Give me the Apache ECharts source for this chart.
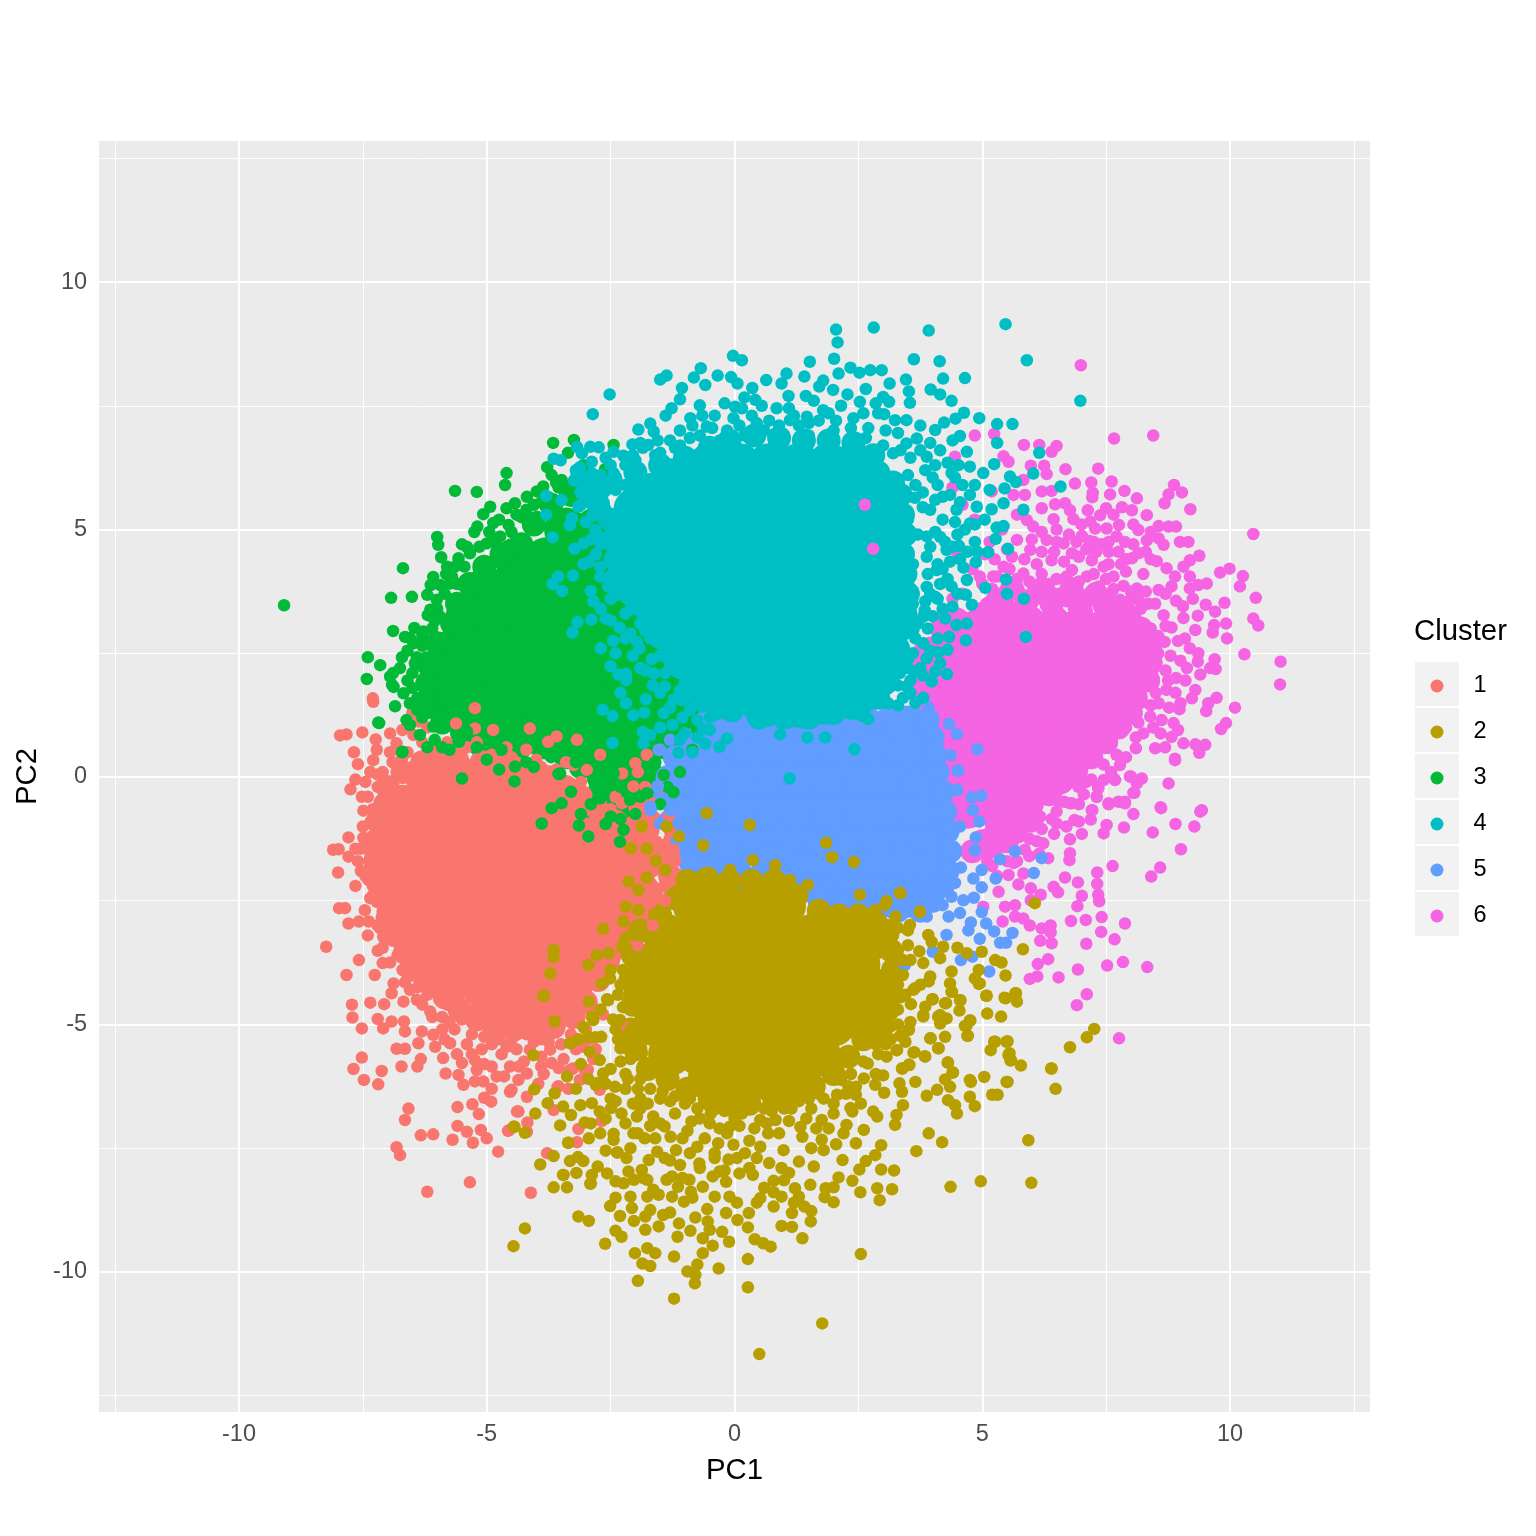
<!DOCTYPE html>
<html><head><meta charset="utf-8">
<style>html,body{margin:0;padding:0;background:#fff}#c{width:1536px;height:1536px}</style>
<script src="https://cdn.jsdelivr.net/npm/echarts@6/dist/echarts.min.js"></script></head>
<body><div id="c"></div>
<script>
const categories=['1','2','3','4','5','6'];
const colors=['#F8766D','#B79F00','#00BA38','#00BFC4','#619CFF','#F564E3'];
const majorBreaks=[-10,-5,0,5,10];
const minorBreaks=[-12.5,-7.5,-2.5,2.5,7.5,12.5];

// dense centres of each cluster, read as solid areas
const core1=[[-6.2,0],[-5.6,0],[-5,0],[-4.4,-.1],[-3.8,-.2],[-6.7,-.6],[-6.1,-.6],[-5.5,-.6],[-4.9,-.6],[-4.3,-.6],[-3.7,-.6],[-6.8,-1.2],[-6.2,-1.2],[-5.6,-1.2],[-5,-1.2],[-4.4,-1.2],[-3.8,-1.2],[-3.2,-1.2],[-2.6,-1.2],[-2.1,-1.4],[-6.8,-1.8],[-6.2,-1.8],[-5.6,-1.8],[-5,-1.8],[-4.4,-1.8],[-3.8,-1.8],[-3.2,-1.8],[-2.6,-1.8],[-2,-1.8],[-6.6,-2.4],[-6,-2.4],[-5.4,-2.4],[-4.8,-2.4],[-4.2,-2.4],[-3.6,-2.4],[-3,-2.4],[-2.4,-2.4],[-1.9,-2.4],[-6.4,-3],[-5.8,-3],[-5.2,-3],[-4.6,-3],[-4,-3],[-3.4,-3],[-2.8,-3],[-2.2,-3],[-6.1,-3.6],[-5.5,-3.6],[-4.9,-3.6],[-4.3,-3.6],[-3.7,-3.6],[-3.1,-3.6],[-2.7,-3.5],[-5.7,-4.1],[-5.1,-4.2],[-4.5,-4.2],[-3.9,-4.2],[-3.3,-4.2],[-4.9,-4.7],[-4.3,-4.7],[-3.7,-4.7]];
const core2=[[-.8,-2.6],[-.2,-2.6],[.4,-2.6],[1,-2.6],[-1.4,-3.2],[-.8,-3.2],[-.2,-3.2],[.4,-3.2],[1,-3.2],[1.6,-3.2],[2.2,-3.2],[2.7,-3.3],[-1.7,-3.8],[-1.1,-3.8],[-.5,-3.8],[.1,-3.8],[.7,-3.8],[1.3,-3.8],[1.9,-3.8],[2.5,-3.8],[-1.8,-4.4],[-1.2,-4.4],[-.6,-4.4],[0,-4.4],[.6,-4.4],[1.2,-4.4],[1.8,-4.4],[2.4,-4.4],[2.8,-4.3],[-1.6,-5],[-1,-5],[-.4,-5],[.2,-5],[.8,-5],[1.4,-5],[2,-5],[2.5,-4.85],[-1.3,-5.6],[-.7,-5.6],[-.1,-5.6],[.5,-5.6],[1.1,-5.6],[1.7,-5.6],[-.5,-6.1],[.1,-6.1],[.7,-6.1],[1.3,-6]];
const core3=[[-3.4,5],[-2.8,5],[-2.2,5],[-4.4,4.4],[-3.8,4.4],[-3.2,4.4],[-2.6,4.4],[-2,4.4],[-5,3.8],[-4.4,3.8],[-3.8,3.8],[-3.2,3.8],[-2.6,3.8],[-2,3.8],[-5.4,3.2],[-4.8,3.2],[-4.2,3.2],[-3.6,3.2],[-3,3.2],[-2.4,3.2],[-1.8,3.2],[-5.6,2.6],[-5,2.6],[-4.4,2.6],[-3.8,2.6],[-3.2,2.6],[-2.6,2.6],[-2,2.6],[-1.4,2.6],[-5.8,2],[-5.2,2],[-4.6,2],[-4,2],[-3.4,2],[-2.8,2],[-2.2,2],[-1.6,2],[-1,2],[-5.7,1.4],[-5.1,1.4],[-4.5,1.4],[-3.9,1.4],[-3.3,1.4],[-2.7,1.4],[-2.1,1.4],[-1.5,1.4],[-.9,1.4],[-5,.8],[-4.4,.8],[-3.8,.8],[-3.2,.8],[-2.6,.8],[-2,.8],[-1.4,.8],[-2.6,.2],[-2,.2]];
const core4=[[-.5,6.3],[.1,6.3],[.7,6.3],[1.3,6.3],[1.9,6.3],[2.4,6.3],[-1.2,6],[-.6,6],[0,6],[.6,6],[1.2,6],[1.8,6],[2.4,6],[2.9,5.6],[-2,5.4],[-1.4,5.4],[-.8,5.4],[-.2,5.4],[.4,5.4],[1,5.4],[1.6,5.4],[2.2,5.4],[2.8,5.4],[3,5.1],[-2.2,4.8],[-1.6,4.8],[-1,4.8],[-.4,4.8],[.2,4.8],[.8,4.8],[1.4,4.8],[2,4.8],[2.6,4.8],[3,4.6],[-1.8,4.2],[-1.2,4.2],[-.6,4.2],[0,4.2],[.6,4.2],[1.2,4.2],[1.8,4.2],[2.4,4.2],[2.9,4.2],[-1.6,3.6],[-1,3.6],[-.4,3.6],[.2,3.6],[.8,3.6],[1.4,3.6],[2,3.6],[2.6,3.6],[3,3.6],[-1.4,3],[-.8,3],[-.2,3],[.4,3],[1,3],[1.6,3],[2.2,3],[2.8,3],[3,3],[-1,2.4],[-.4,2.4],[.2,2.4],[.8,2.4],[1.4,2.4],[2,2.4],[2.6,2.4],[2.8,2.4],[-.6,1.8],[0,1.8],[.6,1.8],[1.2,1.8],[1.8,1.8],[2.4,1.8],[2.7,1.9],[.6,1.45],[1.2,1.45],[1.8,1.5],[2.4,1.6]];
const core5=[[-.4,1],[.2,1],[.8,1],[1.4,1],[2,1],[2.6,1],[3.2,1],[3.5,1],[-.8,.4],[-.2,.4],[.4,.4],[1,.4],[1.6,.4],[2.2,.4],[2.8,.4],[3.4,.4],[3.7,.4],[-1,-.2],[-.4,-.2],[.2,-.2],[.8,-.2],[1.4,-.2],[2,-.2],[2.6,-.2],[3.2,-.2],[3.8,-.2],[-1,-.8],[-.4,-.8],[.2,-.8],[.8,-.8],[1.4,-.8],[2,-.8],[2.6,-.8],[3.2,-.8],[3.8,-.8],[-.6,-1.4],[0,-1.4],[.6,-1.4],[1.2,-1.4],[1.8,-1.4],[2.4,-1.4],[3,-1.4],[3.6,-1.4],[4,-1.4],[.8,-1.8],[1.4,-1.9],[2,-2],[2.6,-2],[3.2,-2],[3.8,-2],[2.4,-2.4],[3,-2.4],[3.5,-2.4]];
const core6=[[4.4,3],[5,3],[5.6,2.9],[6.2,2.9],[6.8,2.9],[7.4,2.9],[7.9,2.9],[4,2.4],[4.6,2.4],[5.2,2.4],[5.8,2.4],[6.4,2.4],[7,2.4],[7.6,2.4],[8,2.4],[3.9,1.8],[4.5,1.8],[5.1,1.8],[5.7,1.8],[6.3,1.8],[6.9,1.8],[7.5,1.8],[7.9,1.9],[4,1.2],[4.6,1.2],[5.2,1.2],[5.8,1.2],[6.4,1.2],[7,1.2],[7.5,1.3],[4.2,.6],[4.8,.6],[5.4,.6],[6,.6],[6.6,.6],[7,.7],[4.6,0],[5.2,0],[5.8,0],[6.3,-.05],[4.7,-.6],[5.3,-.6],[5.7,-.5]];

// bands of the solid areas' edges
const band1=[[-6.3,.3],[-6.7,.1],[-7,-.2],[-7.05,-.55],[-7.2,-.9],[-7.25,-1.3],[-7.25,-1.7],[-7.2,-2.1],[-7,-2.5],[-7,-2.85],[-6.85,-3.2],[-6.65,-3.55],[-6.45,-3.9],[-6.15,-4.15],[-5.85,-4.45],[-5.55,-4.7],[-5.2,-4.9],[-4.85,-5.05],[-4.45,-5.1],[-4.05,-5.1],[-3.65,-5.05],[-3.25,-4.85],[-3,-4.55],[-2.75,-4.1],[-2.55,-3.7],[-2.3,-3.4],[-2.05,-3.05],[-1.85,-2.7],[-1.8,-2.2],[-1.7,-1.8],[-1.65,-1.4],[-2.2,-1.1],[-2.7,-.9],[-3.3,-.7],[-3.1,-.4],[-4,-.3],[-3.5,-.25],[-4.2,.1],[-4.6,.25],[-5.1,.3],[-5.6,.35],[-6,.4],[-3.4,-.2],[-2.8,-.6],[-2.4,-.9],[-2,-1],[-1.7,-.9],[-1.9,-.6],[-1.2,-1.3],[-1.3,-2],[-1.1,-2.1],[-1.3,-1.6]];
const band2=[[3.05,-3.1],[3.15,-3.5],[3.2,-3.9],[3.15,-4.3],[3.1,-4.7],[2.95,-5.1],[2.6,-5.3],[2.3,-5.65],[2,-6],[1.6,-6.25],[1.2,-6.4],[.8,-6.5],[.3,-6.6],[-.1,-6.6],[-.5,-6.5],[-.95,-6.3],[-1.35,-6.1],[-1.75,-5.9],[-2,-5.5],[-2.1,-5.1],[-2.05,-4.6],[-2.1,-4.1],[-2.05,-3.6],[-1.9,-3.1],[-1.5,-2.8],[-1.2,-2.45],[-.95,-2.1],[-.55,-2.05],[-.1,-2.1],[.35,-2.1],[.8,-2.1],[1.25,-2.4],[1.7,-2.7],[2.1,-2.8],[2.5,-2.8],[2.85,-2.95]];
const band3=[[-6.2,1.5],[-6.2,1.9],[-6.2,2.3],[-6,2.7],[-5.7,3.1],[-5.6,3.5],[-5.35,3.9],[-5.05,4.25],[-4.7,4.5],[-4.3,4.7],[-4.05,5.1],[-3.7,5.5],[-3.3,5.7],[-5.9,1.1],[-5.5,.9],[-5.1,.7],[-3.3,.6],[-2.9,.3],[-3.4,.4],[-2.3,0],[-2.1,-.3],[-1.7,.1],[-1.2,.4],[-1,.9],[-1.8,-.1],[-2.6,-.2],[-3.1,.2],[-2.7,-.2],[-2.4,-.5],[-2.2,-.7],[-1.9,-.4],[-1.6,-.3],[-1.3,0],[-2.9,-.6]];
const band4=[[-3,5.8],[-2.75,5.5],[-2.5,5.2],[-2.35,4.8],[-2.4,4.4],[-2.4,4],[-2.1,3.7],[-1.8,3.4],[-1.5,3.05],[-1.3,2.7],[-.95,2.3],[-.7,1.9],[-.4,1.5],[-.05,1.35],[.5,1.2],[1,1.2],[1.5,1.2],[2,1.3],[2.5,1.4],[2.9,1.6],[3.05,1.9],[3.1,2.2],[3.3,2.6],[3.4,3],[3.45,3.3],[3.5,3.7],[3.45,4.1],[3.4,4.5],[3.45,4.9],[3.4,5.3],[3.35,5.7],[3.2,5.95],[2.9,6.15],[2.8,6.5],[2.4,6.75],[1.9,6.8],[1.4,6.8],[.9,6.85],[.4,6.9],[-.1,6.8],[-.5,6.65],[-1,6.45],[-1.5,6.3],[-2,6.15],[-2.5,6],[-2.9,6],[-2.7,5.85],[-2,5.8],[-1.7,5.9]];
const band5=[[-.9,.8],[-1.2,.4],[-1.35,0],[-1.4,-.4],[-1.3,-.9],[-1.05,-1.3],[-.75,-1.6],[-.35,-1.85],[.1,-1.9],[3.9,1.15],[4,.8],[4.05,.45],[4.1,.1],[4.2,-.3],[4.25,-.7],[4.3,-1.1],[4.35,-1.5],[4.3,-1.9],[4.2,-2.2],[4,-2.5],[3.75,-2.7],[3.3,-2.7],[1.9,-2.3],[1.5,-2.2],[1,-2.1],[.5,-2],[-.9,-1.7],[-.6,-1.9],[-.3,-2.1],[.2,-2.15],[.6,-2.2],[2.1,-2.5],[1.7,-2.45]];
const band6=[[5,3.3],[5.5,3.35],[6,3.2],[6.5,3.2],[7,3.3],[7.5,3.3],[7.9,3.3],[8.2,3],[8.4,2.7],[8.4,2.3],[8.35,1.95],[8.1,1.6],[8,1.3],[7.75,1],[7.5,.7],[7.2,.4],[6.9,.15],[6.6,-.1],[6.35,-.35],[6,-.55],[5.7,-.8],[5.3,-1],[5,-1.3],[4.8,-1.5],[5.3,3.55],[5.9,3.55],[6.4,3.5],[7,3.55],[7.5,3.55],[5.6,3.8],[6.2,3.8],[6.8,3.8],[7.3,3.7],[5.5,-1.3],[5.2,-1.4],[5.7,-1.1],[6,-.85]];

const points1=[[-7.96,.84],[-7.83,.86],[-7.51,.9],[-7.24,.76],[-7.68,.5],[-7.6,.26],[-7.29,.34],[-7.22,.55],[-6.95,.88],[-6.82,.68],[-7.65,-.05],[-7.75,-.25],[-7.52,-.4],[-7.49,-.68],[-7.34,-.9],[-7.79,-1.22],[-7.49,-1.23],[-8.1,-1.47],[-7.99,-1.46],[-7.79,-1.61],[-7.65,-1.45],[-8,-1.93],[-7.54,-1.9],[-7.39,-2.08],[-7.98,-2.65],[-7.86,-2.65],[-7.46,-2.69],[-7.22,-2.52],[-7.79,-2.96],[-7.58,-2.92],[-7.38,-2.92],[-7.15,-3.06],[-8.24,-3.43],[-7.2,-3.51],[-7.09,-3.23],[-7.58,-3.7],[-7.83,-4],[-7.1,-3.76],[-7.26,-4],[-6.88,-4.17],[-6.92,-4.37],[-7.72,-4.6],[-7.35,-4.56],[-7.07,-4.59],[-6.68,-4.54],[-7.71,-4.86],[-7.2,-4.89],[-7.52,-5.08],[-7.09,-5.08],[-6.92,-4.94],[-6.67,-4.94],[-6.65,-5.14],[-6.41,-4.5],[-6.14,-4.74],[-6.31,-5.14],[-6.08,-5.21],[-6.38,-5.38],[-6.04,-5.45],[-6.82,-5.49],[-6.65,-5.49],[-5.74,-5.38],[-7.52,-5.67],[-7.69,-5.9],[-7.12,-5.94],[-7.48,-6.12],[-7.19,-6.21],[-6.72,-5.85],[-6.4,-5.85],[-6.33,-5.7],[-5.88,-5.68],[-5.83,-5.99],[-5.57,-6.02],[-5.5,-5.78],[-5.47,-6.22],[-5.24,-5.72],[-5.2,-5.92],[-5.24,-6.15],[-5.07,-6.15],[-4.9,-5.85],[-4.8,-6.05],[-4.53,-5.85],[-4.53,-6.36],[-4.19,-5.99],[-4.36,-6.12],[-3.96,-6.2],[-3.55,-6.25],[-4.19,-6.46],[-4.36,-6.76],[-4.13,-5.51],[-3.69,-5.78],[-3.55,-5.88],[-3.72,-5.51],[-3.32,-5.92],[-3.12,-6.12],[-3.02,-5.92],[-6.58,-6.7],[-6.65,-6.93],[-5.59,-6.67],[-5.05,-6.48],[-5.29,-6.61],[-5.16,-6.81],[-4.91,-6.56],[-5.59,-7.05],[-6.33,-7.24],[-6.08,-7.22],[-5.69,-7.33],[-5.4,-7.17],[-5.12,-7.13],[-5,-7.3],[-5.28,-7.39],[-6.82,-7.48],[-6.75,-7.64],[-4.77,-7.57],[-4.57,-7.15],[-4.18,-6.98],[-2.68,-6.95],[-3.15,-7.11],[-3.18,-7.38],[-3.78,-7.6],[-5.34,-8.19],[-6.2,-8.38],[-4.11,-8.4],[-5.24,1.39],[-5.62,1.08],[-6.37,1.12],[-6.48,.85],[-4.87,.95],[-4.13,.98],[-3.76,.71],[-3.59,.82],[-3.18,.75],[-7.29,1.52],[-5.24,.98],[-5.04,.31],[-4.06,-.03],[-3.86,.01],[-3.62,-.3],[-3.25,.24],[-2.98,.14],[-2.71,.45],[-2.27,.07],[-2,.28],[-1.77,.45],[-2.04,-.19],[-1.67,-.53],[-2.71,-.7],[-2.27,-.53],[-1.84,-.83],[-1.33,-.8],[-1.5,-1.37],[-1.64,-1.1],[-1.23,-1.47],[-1.4,-1.84],[-1.77,-1.95],[-1.43,-2.21],[-1.7,-2.55],[-7.3,1.59],[-4.54,-7.13],[-4.19,-7.17],[-4.39,-6.76],[-3.57,-6.26],[-3.65,-6.73],[-4.5,-6.32],[-2.72,-6.32],[-2.96,-5.92],[-3.26,-5.89],[-2.26,-5.01],[-6.9,.3],[-6.7,.4],[-7.1,.1],[-7.2,-.2],[-7.1,-.5],[-7.3,-1.2],[-7.2,-1.6],[-7.3,-2.2],[-7.1,-2.7],[-6.9,-3.2],[-6.8,-3.6],[-6.6,-4],[-6.2,-4.4],[-5.8,-4.6],[-5.5,-4.9],[-5.3,-5.2],[-4.9,-5.4],[-4.5,-5.3],[-4.2,-5.2],[-3.9,-5.3],[-3.3,-5.2],[-3,-5.1],[-2.8,-5.5],[-6.1,.5],[-5.7,.5],[-5.4,.6],[-4.9,.45],[-4.5,.4],[-4,.35],[-3.4,.3],[-6.95,.5],[-6.6,.5],[-6.3,.7],[-7.4,-.4],[-7.35,.1],[-7.5,-1],[-7.6,-1.7],[-7.65,-2.2],[-7.3,-2.4],[-7.4,-3.2],[-7.2,-3],[-6.95,-3.75],[-6.7,-3.9],[-6.55,-4.3],[-6.3,-4.6],[-5.9,-4.85],[-5.65,-5.1],[-5.4,-5.4],[-5.1,-5.5],[-4.7,-5.6],[-4.4,-5.5],[-4.25,-5.75],[-3.9,-5.65],[-3.5,-5.4],[-3.2,-5.5],[-2.85,-5.7],[-5.6,-5.6],[-5.05,-5.8],[-4.65,-6.05],[-3.85,-6],[-3.35,-6.3],[-4.9,-6.3],[-2.65,-4.8],[-1.8,-.2],[-1.5,-.2],[-1.95,.1],[-2.4,-.4],[-2.5,-.65],[-3.2,-.35],[-3.1,-.1],[-3.6,.15],[-4.4,.3],[-4.2,.55],[-3.9,.2],[-4.6,.6],[-5.2,.7],[-5.8,.7],[-6.5,1.3],[-6.2,1],[-6.7,.95],[-7.45,-.1],[-1.3,-1.1],[-1.2,-1.7],[-1.55,-2.4],[-1.4,-2.5],[-1.65,-3],[-1.95,-3.4],[-5.9,-5.1],[-5.85,-5.3],[-5.3,-5.6],[-5.05,-5.25],[-4.75,-5.3],[-4.6,-5.45],[-4.05,-5.35],[-3.75,-5.35],[-3.05,-5.45],[-2.95,-5.3],[-4.35,-5.85],[-3.9,-5.85],[-3.45,-5.7],[-6.1,-4.85],[-5.75,-4.95],[-6.4,-4.25],[-6.65,-4.15],[-7.1,-3.45],[-7.35,-2.45],[-7.45,-2],[-7.35,-1.55],[-7.55,-1.45],[-7.3,-.65],[-7.2,.05],[-6.5,.2]];
const points2=[[.5,-11.66],[1.77,-11.04],[2.55,-9.64],[-1.22,-10.54],[.27,-10.31],[.27,-9.74],[-1.95,-10.18],[-.8,-10.23],[-.95,-9.99],[-.75,-9.85],[-.32,-9.93],[-.79,-10.06],[-1.7,-9.88],[-1.86,-9.83],[-1.22,-9.69],[-2.01,-9.62],[-1.76,-9.52],[-1.6,-9.62],[-2.61,-9.43],[-2.28,-9.29],[-2.4,-9.17],[-1.8,-9.15],[-4.46,-9.48],[-4.23,-9.12],[-3.15,-8.88],[-2.94,-8.97],[-2.51,-8.67],[-2.31,-8.87],[-2.03,-8.97],[-2.07,-8.71],[-1.8,-8.88],[-1.7,-8.75],[-1.44,-8.85],[-1.53,-9.08],[-1.12,-9.02],[-1.15,-9.29],[-.89,-9.17],[-.79,-8.9],[-.55,-8.73],[-.54,-8.98],[-.5,-9.15],[-.64,-9.32],[-.64,-9.62],[-.44,-9.47],[-.11,-9.39],[-.25,-9.19],[.27,-9.1],[.41,-9.34],[.58,-9.42],[.73,-9.49],[.95,-9.07],[1.16,-9.09],[1.37,-9.32],[1.54,-8.98],[1.55,-8.77],[1.41,-8.68],[1.16,-8.81],[.95,-8.48],[.79,-8.68],[.52,-8.51],[.29,-8.81],[.06,-8.95],[-.17,-8.81],[-.1,-8.48],[-.4,-8.48],[-1.02,-8.58],[-1.26,-8.48],[-1.53,-8.44],[-1.76,-8.48],[-2.1,-8.48],[-3.65,-8.29],[-3.38,-8.29],[-2.91,-8.22],[-3.46,-8.04],[-3.92,-7.83],[-3.65,-7.66],[-3.32,-7.76],[-3.05,-7.76],[-3.16,-7.68],[-3.19,-8],[-2.76,-7.87],[-2.88,-8.04],[-2.57,-8.01],[-2.4,-8.17],[-2.24,-8.21],[-2.03,-8.14],[-2.14,-7.97],[-1.87,-7.94],[-1.76,-8.14],[-1.64,-8.34],[-1.26,-8.07],[-1.37,-8.14],[-1.14,-8.28],[-.91,-8.14],[-.88,-8.38],[-.64,-8.28],[-.44,-8.07],[-.3,-7.97],[-.17,-8.18],[-.12,-7.73],[.1,-8.01],[.37,-8.04],[.79,-8.16],[.79,-8.39],[1.22,-8.31],[1.53,-8.24],[1.3,-8.48],[1.84,-8.31],[1.82,-8.49],[2,-8.59],[2,-8.29],[2.1,-8.09],[2.38,-8.16],[2.54,-8.39],[2.52,-7.93],[2.65,-7.76],[2.84,-7.64],[2.96,-7.44],[2.96,-7.93],[3.22,-7.95],[2.88,-8.31],[3.18,-8.33],[2.93,-8.55],[4.36,-8.28],[4.97,-8.17],[5.99,-8.2],[5.93,-7.34],[4.19,-7.38],[3.92,-7.2],[3.67,-7.56],[2.18,-7.74],[2.05,-7.42],[2.45,-7.4],[1.8,-7.54],[1.76,-7.33],[2.61,-7.13],[3.24,-7.03],[3.27,-6.83],[2.88,-6.86],[2.8,-6.76],[3.4,-6.63],[4.49,-6.8],[4.85,-6.65],[4.75,-6.46],[4.45,-6.63],[4.31,-6.53],[5.2,-6.42],[5.31,-6.42],[6.48,-6.3],[6.4,-5.89],[6.77,-5.46],[7.11,-5.26],[7.26,-5.09],[5.51,-6.16],[5.04,-6.06],[4.77,-6.16],[4.35,-6.26],[4.25,-6.11],[3.88,-6.44],[4.09,-6.32],[3.38,-6.36],[3.02,-6.38],[2.84,-6.22],[3.65,-6.16],[3.33,-6.19],[3,-6.03],[4.41,-5.97],[4.31,-5.77],[5.78,-5.83],[5.58,-5.72],[5.55,-5.58],[5.17,-5.52],[5.26,-5.35],[5.51,-5.34],[3.85,-5.65],[3.63,-5.56],[3.52,-5.81],[3.38,-5.89],[3.28,-5.52],[4.12,-5.48],[3.96,-5.28],[4.25,-5.25],[4.71,-5.23],[4.68,-5.03],[4.76,-4.92],[4.15,-4.98],[4.15,-4.81],[3.52,-5.11],[3.34,-5.23],[3.81,-4.81],[3.85,-4.64],[4,-4.49],[3.56,-4.59],[3.64,-4.27],[4.27,-4.57],[4.54,-4.72],[4.56,-4.51],[4.39,-4.34],[5.08,-4.42],[5.47,-4.47],[5.7,-4.54],[5.68,-4.37],[5.1,-4.78],[5.38,-4.84],[4.93,-4.18],[4.35,-4.17],[3.92,-4.13],[-3.84,-4.42],[-3.63,-4.94],[-3.15,-5.3],[-3.32,-5.38],[-4.06,-5.62],[-3.38,-6.05],[-4.04,-6.31],[-3.63,-6.39],[-3.77,-6.59],[-4.02,-6.8],[-4.44,-7.07],[-4.23,-7.19],[-3.52,-7.04],[-3.02,-6.98],[-3.46,-6.66],[-3.3,-6.83],[-3.11,-6.63],[-2.88,-6.59],[-2.72,-6.76],[-2.49,-6.69],[-2.28,-6.8],[-1.97,-6.86],[-1.64,-6.86],[-2.8,-6.22],[-2.65,-5.99],[-2.92,-5.55],[-2.72,-5.72],[-2.41,-6.26],[-1.99,-5.31],[-1.87,-5.58],[-2.3,-5.48],[-2.88,-4.84],[-2.69,-5.25],[-2.55,-4.51],[-2.94,-4.54],[-3.36,-7.39],[-2.94,-7.3],[-2.71,-7.2],[-2.44,-7.21],[-2.44,-7.33],[-2.04,-7.2],[-1.81,-7.3],[-2.37,-7.59],[-2.1,-7.5],[-2.18,-7.7],[-1.56,-7.57],[-1.73,-7.74],[-1.41,-7.7],[-1.18,-7.54],[-1.1,-7.84],[-.71,-7.81],[-1.41,-7.06],[-1.29,-7.27],[-.87,-6.96],[-.75,-7.47],[-.33,-7.4],[-.02,-7.43],[.21,-7.6],[.52,-7.47],[.99,-7.54],[1.3,-7.77],[1.6,-7.87],[1.37,-7.27],[.68,-7.2],[1.33,-7.07],[1.76,-6.93],[2.26,-7.03],[2,-6.8],[2.38,-6.76],[.83,-6.93],[.52,-6.93],[-.1,-7.07],[-.48,-6.8],[2.45,-6.42],[2.34,-6.69],[2.07,-6.42],[2.15,-6.12],[2.61,-6.09],[2.45,-6.26],[3.07,-5.65],[2.69,-5.79],[3,-5.31],[3.15,-5.04],[-.56,-.73],[.31,-.97],[-1.12,-1.2],[-.63,-1.38],[1.85,-1.33],[1.97,-1.62],[2.41,-1.72],[.37,-1.68],[-.09,-1.88],[.82,-1.78],[1.12,-2.08],[1.48,-2.18],[2.53,-2.38],[3.34,-2.34],[3.03,-2.59],[3.74,-2.73],[2.83,-2.69],[2.13,-2.69],[6.06,-2.55],[-1.87,-1],[-1.37,-1],[-2.09,-1.44],[-1.77,-1.45],[-1.59,-1.69],[-1.4,-1.88],[-1.77,-2.03],[-.98,-2.03],[-2.14,-2.11],[-1.94,-2.28],[-2.19,-2.62],[-1.94,-2.69],[-2.24,-2.92],[-2.65,-3.07],[-2.2,-3.26],[-2.27,-3.43],[-2.54,-3.56],[-2.78,-3.6],[-2.95,-3.8],[-3.65,-3.49],[-3.65,-3.64],[-3.72,-3.97],[-3.86,-4.42],[-2.68,-4.17],[-2.51,-4.07],[-1.94,-4.03],[-2.57,-4.49],[-2.85,-4.91],[-2.31,-4.91],[-2.81,-5.26],[-2.78,-6.19],[-4.45,-7.06],[-3.35,-7.39],[-2.36,-7.58],[-3.45,-8.04],[-2.9,-8.21],[3.35,-2.35],[3.07,-2.51],[3.25,-2.82],[3.74,-2.72],[3.54,-2.99],[3.91,-3.19],[3.98,-3.33],[3.73,-3.52],[4.21,-3.43],[4.5,-3.45],[4.69,-3.56],[4.99,-3.53],[5.82,-3.48],[5.26,-3.7],[5.39,-3.75],[4.93,-3.9],[5.47,-4.01],[4.85,-4.07],[4.95,-4.17],[4.38,-3.93],[4.15,-3.66],[3.81,-3.76],[3.95,-4.03],[4.38,-4.34],[3.61,-4.3],[5.09,-4.42],[5.45,-4.46],[5.67,-4.37],[3.99,-4.49],[4.55,-4.51],[4.25,-4.57],[3.81,-4.84],[4.75,-4.92],[4.65,-5.03],[4.7,-5.23],[4.11,-4.84],[4.28,-4.88],[3.51,-5.11],[3.95,-5.28],[4.11,-5.48],[5.24,-5.35],[5.49,-5.35],[5.53,-5.62],[5.57,-5.73],[6.39,-5.89],[3.84,-5.64],[3.61,-5.57],[3.27,-5.52],[3.53,-5.82],[3.39,-5.89],[4.3,-5.77],[4.4,-5.97],[4.75,-6.12],[5.49,-6.16],[-2.2,-7],[-1.5,-6.5],[-1,-6.6],[-.5,-7],[0,-6.9],[.4,-7.1],[1,-6.7],[1.5,-6.5],[-.9,-7.6],[-.4,-7.7],[.3,-7.9],[.7,-7.8],[1.1,-8],[-1.6,-7.3],[-1.9,-6.5],[-2.2,-6],[2.9,-5.6],[2.9,-5.1],[3.2,-4.6],[3.3,-4.2],[3.4,-3.7],[3.2,-3.2],[2.9,-2.9],[-1.9,-3.2],[-2,-3.8],[-2.1,-4.5],[-2.1,-5.1],[-2.5,-6.5],[-2.2,-6.3],[-1.9,-6.7],[-1.7,-6.3],[-1.5,-7],[-1.2,-6.8],[-1.05,-7.3],[-.7,-6.9],[-.6,-7.3],[-.35,-6.7],[-.15,-7.2],[.15,-6.8],[.3,-7.35],[.6,-6.7],[.9,-7.2],[1.15,-6.7],[1.55,-6.7],[1.8,-6.5],[1.9,-7.1],[2.25,-6.4],[2.55,-6.6],[-.4,-7.6],[.05,-7.7],[.45,-7.7],[.95,-7.9],[1.55,-7.5],[2.2,-7.2],[-1.3,-7.75],[-1.95,-7.2],[-2.6,-7.55],[-2.9,-7],[-2.5,-5.9],[-2.35,-5.3],[-2.45,-4.9],[-2.35,-4.4],[-2.5,-3.9],[-2.1,-3.2],[3.3,-5],[3.55,-4.95],[3.45,-4.4],[3.75,-4.2],[3.3,-3.5],[3.5,-3.1],[3.55,-3.7],[3.05,-5.4],[2.85,-6],[2.35,-6],[-1.9,-6.1],[-.7,-7.9],[-.2,-7.95],[.6,-8.3],[1,-8.15],[-.85,-8.5],[.05,-8.6],[-1.3,-8.8],[-2.4,-8.5],[1.2,-8.6],[-1.85,-8.1],[-1.05,-8.1],[.45,-8.6],[-3.05,-5.05],[-2.95,-5.25],[-3.1,-5.8],[-2.95,-6.1],[-3.2,-6.3],[-2.6,-6.2],[-2.3,-5.75],[-2.1,-5.7],[-2.15,-6.1],[-1.95,-6.3],[-2.4,-6.55],[-2.6,-6.9],[-2.05,-6.6],[-1.75,-6.6],[-1.45,-6.35],[-1.2,-6.45],[-1.3,-6.55],[-.9,-6.5],[-.75,-6.7],[-.5,-6.65],[-.2,-6.75],[.35,-6.7],[.75,-6.75],[.95,-6.6],[1.3,-6.55],[1.7,-6.4],[1.45,-6.9],[1.1,-6.95],[.65,-7],[.1,-7.05],[-.3,-7.1],[-.95,-7.15],[-1.7,-7.05],[1.65,-7.1],[2,-6.6],[2.3,-6.25],[2.6,-5.75],[2.85,-5.4],[3.15,-5.3],[3.45,-5.35],[3.3,-4.7],[3.35,-4.45],[3.4,-4],[3.5,-3.4],[3.3,-3.05],[-2.25,-3.9],[-2.3,-4.2],[-2.7,-4.7],[-2.25,-4.65],[-2.4,-5.1],[-2.15,-5.4]];
const points3=[[-9.09,3.47],[-6.69,4.22],[-6.93,3.62],[-6.51,3.64],[-6.89,2.95],[-6.46,3.01],[-7.4,2.42],[-7.15,2.26],[-7.42,1.98],[-6,4.85],[-5.98,4.69],[-5.92,4.44],[-5.64,5.78],[-5.2,5.76],[-4.6,6.14],[-4.63,5.9],[-3.66,6.75],[-3.24,6.81],[-3.36,6.55],[-3.78,6.26],[-5.4,4.65],[-6.2,3.68],[-5.82,4.1],[-6.08,4.04],[-5.94,3.88],[-6.13,3.88],[-6.19,3.27],[-6.55,2.81],[-6.65,2.83],[-6.71,2.42],[-6.41,2.42],[-6.89,2.1],[-6.91,1.86],[-6.85,1.43],[-7.17,1.09],[-6.71,.5],[-4.93,5.46],[-5.07,5.31],[-5.19,5.06],[-4.87,5.13],[-4.6,5.43],[-4.43,5.53],[-4.19,5.66],[-3.99,5.77],[-3.86,5.87],[-3.69,6.1],[-3.49,6],[-3.39,5.73],[-3.99,5.26],[-4.56,5.09],[-4.73,4.86],[-5,4.72],[-5.57,4.42],[-5.64,4.25],[-5.34,4.52],[-5.74,3.91],[-6.01,3.58],[-6.14,3.38],[-2.44,6.71],[-2.61,6.22],[-6.48,2.7],[-6.28,2.94],[-6.95,2.03],[-6.88,1.82],[-6.68,1.69],[-6.55,1.49],[-6.62,1.15],[-6.35,.85],[-6.08,1.02],[-5.56,.71],[-5.4,.92],[-4.44,-.09],[-4.43,.21],[-3.52,.07],[-2.44,.07],[-2.85,-.06],[-2.71,-.43],[-3.69,-.63],[-3.49,-.53],[-1.43,.04],[-1.77,-.33],[-1.23,-.31],[-3.14,-.98],[-2.75,-.43],[-2.95,-1.2],[-3.89,-.94],[-2.31,-1.31],[-5.5,-.03],[-5.57,.71],[-6.7,.51],[-7.19,1.1],[-3.55,.06],[-2.24,-1.07],[-2.11,-.46],[-2.58,.04],[-1.9,-.4],[-5.9,1.5],[-5.2,.6],[-4.7,.55],[-4.2,.3],[-3.7,.4],[-3.2,.3],[-2.3,-.2],[-2.5,-.8],[-1.6,.3],[-6.5,1.8],[-6.5,2.1],[-6.6,2.55],[-6.3,2.65],[-6.1,3],[-5.95,3.25],[-5.85,3.7],[-5.6,3.9],[-5.45,4.25],[-5.15,4.65],[-4.85,4.75],[-4.5,4.95],[-4.3,5.25],[-4.05,5.5],[-3.75,5.65],[-3.55,5.85],[-3.2,6.05],[-3.05,6.3],[-6.3,1.2],[-6.05,.75],[-5.75,.55],[-5,.35],[-4.75,.15],[-4.05,.2],[-3.3,-.3],[-3.1,-.75],[-2.9,-.55],[-2.6,-.95],[-2.3,-.85],[-2,-.75],[-1.5,-.55],[-1.35,-.2],[-1.1,.1],[-.85,.55],[-.75,.95],[-.9,1.1],[-5.5,4.7],[-5.25,4.95],[-4.95,4.95],[-4.75,5.2],[-4.4,5.3],[-4.2,5.4],[-3.9,5.55],[-3.6,5.95],[-3.3,5.9],[-5.8,4.25],[-5.7,4.05],[-6,3.4],[-6.05,3.15],[-6.3,2.85],[-6.45,2.3],[-6.6,1.95],[-6.75,2.2],[-6.4,1.6],[-6.4,1.35],[-6.55,1.05],[-6.15,1.3],[-6.2,.6],[-5.9,.6]];
const points4=[[2.05,9.04],[2.08,8.78],[2.81,9.08],[3.92,9.02],[5.47,9.15],[5.9,8.42],[6.98,7.6],[2.01,8.45],[1.52,8.39],[3.62,8.44],[4.14,8.4],[4.65,8.06],[4.21,8.05],[3.46,8.03],[3.13,7.95],[2.34,8.27],[2.52,8.17],[2.74,8.22],[2.97,8.22],[2.1,8.15],[1.05,8.15],[.95,7.95],[1.41,8.09],[1.79,8.01],[1.71,7.89],[1.99,7.82],[1.09,7.7],[1.44,7.7],[2.28,7.73],[2.65,7.84],[2.53,7.58],[3,7.68],[3.12,7.58],[3.52,7.79],[3.54,7.56],[3.96,7.83],[4.15,7.73],[4.38,7.6],[4.63,7.36],[4.46,7.24],[4.94,7.25],[5.3,7.13],[5.61,7.13],[5.3,6.75],[4.23,7.16],[4.05,7.01],[4.55,6.89],[4.4,6.8],[4.69,6.57],[6.15,6.55],[5.24,6.32],[6.03,6.13],[6.58,5.87],[5.68,5.96],[5.45,5.83],[5.56,6.07],[5.02,6.14],[4.75,6.27],[4.52,6.3],[4.38,6.14],[5.83,5.4],[5.43,5.53],[5.19,5.41],[4.89,5.46],[5.43,5.07],[5.29,5.04],[5.27,4.81],[4.85,4.75],[4.53,4.67],[5.52,4.61],[5.12,4.54],[4.87,4.34],[4.62,4.23],[5.48,3.99],[5.06,3.82],[5.5,3.7],[5.84,3.6],[4.69,3.98],[4.38,3.85],[4.67,3.68],[4.79,3.48],[5.88,2.83],[4.4,3.44],[4.69,3.1],[4.48,3.07],[4.33,2.83],[4.67,2.76],[4.3,2.57],[4.11,2.52],[3.88,2.4],[3.51,2.4],[4.29,2.08],[4.05,2.13],[3.62,2.13],[3.34,2.1],[3.21,1.98],[3.98,1.93],[3.47,1.83],[3.81,1.6],[3.1,1.49],[2.7,1.17],[2.57,1.23],[1.35,1.1],[.92,.86],[1.47,.8],[1.83,.8],[2.42,.56],[1.11,-.03],[3.64,5.64],[3.95,5.4],[4.2,5.66],[4.48,5.4],[4.75,5.12],[3.88,4.86],[4.28,4.59],[3.88,4.45],[4.08,4.18],[3.88,3.84],[4.05,3.64],[3.84,3.37],[3.81,3.24],[3.61,2.97],[3.27,2.9],[3.81,2.7],[3.27,2.43],[3,2.46],[3.2,6.54],[3.47,6.74],[3.68,6.84],[3.88,6.47],[4.15,6.6],[3.47,7.21],[3.24,7.21],[2.9,7.35],[3.02,7.33],[2.4,7.25],[1.79,7.41],[1.46,7.28],[1.12,7.21],[-2.52,7.73],[-2.86,7.33],[-.03,8.51],[.15,8.42],[-.68,8.26],[-.82,8.07],[-.34,8.11],[-.07,8.08],[.06,7.95],[-.59,7.92],[-1.37,8.11],[-1.5,8.03],[-1.06,7.86],[.36,7.86],[.64,8.02],[-1.1,7.63],[-.7,7.51],[.2,7.67],[.42,7.62],[.01,7.48],[-1.27,7.45],[-1.39,7.3],[-.89,7.25],[-1.94,7.02],[-1.7,7.14],[-1.63,6.98],[-.56,7.08],[-.02,7.25],[-2.06,6.72],[-1.74,6.71],[-3.18,6.67],[-3.08,6.54],[-2.91,6.67],[-2.74,6.66],[-2.44,6.57],[-2.24,6.49],[-3.65,6.43],[-3.51,6.4],[-3.12,6.26],[-2.88,6.37],[-2.88,6.14],[-3.24,5.99],[-2.44,6.14],[-3.05,5.74],[-2.75,5.73],[-3.8,5.68],[-3.49,5.59],[-3.8,5.3],[-3.15,5.46],[-3.28,5.23],[-3.32,5.09],[-2.88,5.26],[-3.67,4.84],[-2.81,4.99],[-3.23,4.61],[-3.05,4.72],[-2.93,4.35],[-2.71,4.25],[-3.56,4.05],[-3.26,4.07],[-3.67,3.9],[-3.48,3.76],[-2.9,3.76],[-2.71,4.05],[-2.37,3.68],[-3.17,3.13],[-2.89,3.18],[-3.27,2.92],[-2.5,3.16],[-2.32,3.02],[-1.97,2.73],[-1.92,2.6],[-2.5,2.24],[-2.34,2.07],[-2.19,2.09],[-2.19,1.96],[-1.67,2.38],[-1.63,2.09],[-1.41,1.83],[-1.79,1.57],[-2.66,1.36],[-2.46,1.23],[-2.19,1.49],[-2.04,1.25],[-1.82,1.3],[-1.85,.91],[-1.84,.68],[-2.46,.69],[-1.13,.49],[-1.43,1.29],[-1,.88],[-1.23,1.56],[-.63,.97],[-.59,.67],[-.3,.61],[-.15,.78],[-.9,1.35],[-.29,1.29],[-.66,1.42],[-1.97,3.51],[-2.11,3.37],[-1.57,3.34],[-2.5,6.3],[-2,6.4],[-1.6,6.5],[-1.1,6.7],[-.7,6.9],[-.3,6.8],[.2,6.9],[.6,7],[1,6.8],[1.5,6.9],[2,7],[2.5,6.8],[3,6.7],[-2.4,5.8],[-2.6,5.4],[-2.2,5.9],[-2.7,4.7],[-1.7,2.8],[-1.9,3.1],[-1.4,2.1],[-1,1.9],[3.5,6.1],[3.2,5.9],[3.5,5.2],[3.7,4.9],[3.4,4.6],[3.6,4.3],[3.5,3.9],[3.6,3.5],[3.4,3.1],[-2.6,6.45],[-2.2,6.3],[-2.05,6.5],[-1.85,6.65],[-1.5,6.55],[-1.3,6.8],[-1.1,7],[-.9,6.85],[-.65,7.3],[-.4,7.3],[-.2,7.55],[.1,7.1],[.35,7.3],[.55,7.5],[.7,7.2],[.85,7.45],[1.1,7.45],[1.3,7.1],[1.6,7.6],[1.9,7.35],[2.15,7.5],[2.35,7.05],[2.7,7.05],[2.85,7.55],[3.3,6.95],[3.75,7.1],[3.95,6.75],[4.3,6.35],[4.1,5.9],[3.85,6.2],[3.8,5.75],[4.6,5.9],[4.2,5.2],[4.45,5.15],[4.15,4.85],[4.5,4.9],[4.1,4.3],[4.35,4.35],[3.9,4.1],[4.3,4],[3.95,3.7],[4.2,3.4],[3.9,3],[4.1,2.8],[3.6,2.5],[3.75,2.2],[3.4,1.6],[3.3,1.85],[-3,5.95],[-2.9,5.55],[-2.65,5.2],[-2.9,4.8],[-2.8,4.5],[-2.5,3.6],[-2.7,3.4],[-2.2,3.3],[-2.1,2.9],[-1.8,2.95],[-1.9,2.2],[-1.5,2.45],[-1.25,2.3],[-1.5,1.7],[-1.1,1.75],[-1.05,1.2],[-.75,1.15],[-.5,.95],[-.4,1.25],[-1.7,.85],[-1.5,1],[-2.3,1.7],[-2.7,2.6],[-2.4,2.5],[-1.9,6.75],[-1.55,6.8],[-1.2,6.65],[-.85,7.1],[-.45,7.05],[-.15,7],[.15,7.45],[.45,7.15],[.9,7.1],[1.2,7.3],[1.5,7.15],[1.7,7.2],[2.05,7.2],[2.6,7.35],[2.65,6.85],[3.05,7],[3.35,6.6],[3.55,6.45],[3.75,6.6],[4.05,6.3],[4,6.05],[3.65,5.9],[3.8,5.45],[4.05,5.6],[4.35,5.7],[4.4,4.65],[4.25,4.75],[4.05,4.95],[3.95,4.65],[4.7,4.55],[4.2,4.2],[4.55,4.4],[4.15,3.9],[3.85,3.55],[4.1,3.6],[4.5,3.7],[4,3.25],[4.25,3.2],[3.7,3.1],[3.65,2.8],[3.95,2.55],[3.5,2.2],[3.8,2.05],[4.15,2.3],[3.55,1.95],[3.3,2.3],[3.55,1.7],[3.3,1.45],[3.65,1.5],[4.45,6.05],[4.85,5.9],[5.15,5.8],[4.75,5.7],[4.55,5.55],[5.05,5.2],[4.85,5.1],[4.65,5],[4.9,4.55],[-3.1,5.5],[-3,5.15],[-2.7,4.85],[-3.05,4.3],[-2.55,3.85],[-2.85,3.55],[-2.6,3.2],[-2.2,2.8],[-2.45,2.75],[-2.05,2.45],[-1.8,2.15],[-1.65,1.85],[-1.3,1.4],[-1.05,1.55],[-.85,1.6],[-.75,.8],[-.5,1.2],[-1.25,1.05],[-1.1,.75],[-.85,.5],[-3.2,6.2],[-2.7,6.1],[-2.6,5.85],[-3.1,6]];
const points5=[[4.5,.13],[4.5,-.26],[4.79,-.41],[4.98,-.38],[4.81,-.67],[4.94,-.9],[4.55,-1],[4.87,-1.22],[4.85,-1.48],[5.66,-1.5],[5.36,-1.66],[6.2,-1.64],[6.04,-1.94],[5.27,-2.05],[4.99,-1.88],[4.82,-2.05],[4.99,-2.23],[4.57,-1.83],[4.45,-2.14],[4.83,-2.44],[4.38,-2.42],[4.62,-2.49],[4.32,-2.82],[4.55,-2.75],[4.99,-2.73],[4.77,-2.94],[4.72,-3.1],[5.08,-2.96],[5.24,-3.12],[5.61,-3.15],[4.95,-3.27],[5.36,-3.35],[5.48,-3.35],[4.28,-3.19],[4.57,-3.7],[4.8,-3.63],[5.14,-3.93],[4,-3.53],[4.11,-2.35],[4.2,-2.59],[3.88,-2.82],[3.44,-3.8],[4.33,1.07],[4.49,.87],[4.9,.56],[4.36,.44],[4.52,.13],[4.48,-.26],[3.91,1.41],[-1.5,.55],[-1.3,.75],[-1.55,-.2],[-1.7,-.6],[-1.53,.55],[-1.55,-.18],[-1.69,-.67],[-1.5,-.94],[-1.3,-.67],[3.6,-2.3],[3.9,-2.3]];
const points6=[[6.99,8.32],[7.66,6.84],[8.45,6.9],[4.85,6.9],[5.24,6.93],[5.84,6.71],[6.15,6.71],[6.5,6.69],[6.4,6.57],[5.43,6.48],[5.53,6.37],[5.98,6.29],[6.25,6.29],[6.3,6.12],[6.68,6.22],[7.34,6.23],[6.87,5.93],[7.2,5.95],[7.61,5.97],[7.23,5.74],[7.22,5.65],[7.58,5.71],[7.87,5.78],[8.12,5.63],[8.87,5.9],[9.03,5.75],[8.76,5.71],[8.68,5.53],[9.2,5.41],[10.47,4.91],[7.82,5.45],[8.02,5.39],[7.13,5.39],[7.5,5.43],[7.38,5.29],[7.18,5.16],[8.32,5.29],[8.56,5.07],[8.76,5.06],[8.91,5.06],[8.15,4.99],[7.51,5.02],[7.76,5.09],[7.28,5.02],[6.47,5.51],[6.67,5.53],[6.77,5.39],[6.84,5.21],[6.44,5.21],[6.2,5.43],[5.86,5.7],[6.2,5.77],[6.4,5.78],[5.63,5.7],[5.19,5.77],[5.83,6],[7.01,4.87],[7.16,4.77],[7.71,4.86],[7.88,4.75],[8.32,4.78],[8.56,4.82],[8.66,4.69],[8.99,4.75],[9.16,4.75],[7.55,4.55],[7.75,4.55],[8.15,4.52],[8.02,4.42],[8.52,4.36],[8.72,4.22],[9.19,4.38],[9.38,4.47],[9.06,4.25],[9.8,4.13],[9.99,4.21],[10.26,4.06],[10.2,3.85],[10.52,3.62],[9.19,4.05],[8.89,4.05],[9.53,3.91],[9.36,3.88],[9.19,3.81],[8.82,3.85],[8.56,3.78],[8.12,3.81],[7.85,3.86],[8.15,3.58],[8.49,3.5],[8.91,3.56],[9.51,3.48],[9.89,3.52],[9.7,3.34],[9.35,3.26],[10.47,3.2],[10.57,3.06],[9.92,3.1],[9.68,3.07],[9.65,2.92],[9.94,2.8],[9.06,3.21],[8.66,3.27],[8.82,3.02],[9.3,2.97],[9.09,2.8],[8.68,2.73],[9.19,2.6],[9.36,2.5],[10.29,2.48],[11.02,2.33],[11.01,1.87],[9.69,2.38],[9.35,2.33],[9.6,2.2],[9.71,2.18],[9.4,2.07],[9.13,2.2],[8.91,2],[8.72,1.76],[9.3,1.76],[9.23,1.59],[9.73,1.6],[9.56,1.49],[9.52,1.33],[10.1,1.4],[9,1.49],[8.98,1.37],[8.77,1.4],[8.56,1.49],[8.86,1.09],[8.62,1.15],[8.39,1.22],[9.92,1.09],[9.82,.97],[8.6,.88],[8.82,.81],[8.49,.58],[8.69,.6],[9.06,.68],[9.3,.66],[9.5,.65],[9.38,.49],[8.89,.37],[8.1,.58],[8.25,.88],[7.71,.45],[7.78,.24],[7.98,.01],[8.22,-.03],[8.07,-.32],[8.76,-.13],[8.6,-.61],[9.43,-.67],[7.68,-.06],[7.45,-.06],[7.34,-.23],[7.31,-.4],[7.55,-.53],[7.75,-.5],[7.88,-.53],[6.94,-.2],[6.77,-.53],[7.21,-.67],[6.5,-.47],[6.64,4.72],[6.3,4.79],[6.81,4.52],[5.9,5.19],[6.03,5.06],[5.7,4.79],[5.97,4.59],[5.43,4.25],[5.83,4.11],[5.22,4.05],[6.4,4.38],[6.81,4.18],[7.21,4.38],[7.45,4.25],[7.11,4.05],[7.65,4.05],[5.73,3.78],[6.03,3.85],[6.44,3.71],[6.97,3.71],[7.45,3.64],[7.78,3.58],[5.09,3.51],[5.83,3.37],[6.23,3.58],[4.45,6.47],[2.8,4.61],[2.63,5.5],[8.89,.34],[8,.01],[8.12,-.13],[8.05,-.32],[8.61,-.63],[9.4,-.7],[8.9,-.95],[9.28,-1],[8.44,-1.12],[9.01,-1.46],[8.59,-1.83],[8.41,-2.01],[7.63,-1.8],[7.32,-1.93],[7.32,-2.16],[7.34,-2.38],[7.36,-2.51],[7.41,-2.83],[7.88,-2.96],[7.4,-3.13],[7.67,-3.28],[7.1,-3.37],[6.79,-2.91],[7.09,-2.89],[6.92,-2.61],[7.01,-2.4],[6.93,-2.13],[6.67,-2.03],[6.53,-2.33],[6.44,-2.22],[7.52,-3.81],[7.84,-3.74],[8.33,-3.84],[6.93,-3.89],[6.54,-4.05],[6.33,-3.68],[6.12,-3.78],[6.11,-4.03],[5.96,-4.08],[7.11,-4.39],[6.91,-4.61],[7.76,-5.28],[6.4,-3.36],[6.17,-3.31],[6.38,-3],[6.2,-3.06],[6.38,-3.14],[5.96,-3],[5.83,-2.86],[5.66,-2.59],[5.46,-2.62],[5.41,-2.92],[5.66,-2.82],[5.98,-2.25],[5.98,-2.49],[6.18,-2.38],[5.73,-2.17],[5.83,-1.95],[5.33,-2.32],[5.53,-1.98],[5.63,-1.74],[5.43,-1.41],[5.86,-1.47],[6.33,-1.64],[5.02,-2.62],[6.76,-1.68],[6.77,-1.54],[6.23,-1.34],[7.01,-1.15],[6.77,-1.26],[7.45,-1.14],[7.51,-.97],[7.86,-1.02],[8.05,-.75],[7.19,-.86],[7.22,-.67],[6.86,-.87],[6.5,-.94],[7.55,-.55],[7.88,-.5],[7.31,-.4],[6.97,-.2],[7.65,-.03],[7.34,-.2],[6.8,-.53],[5.8,-1.07],[6.17,-.8],[5.4,-1.1],[5,-1.5],[5.2,-1.8],[6,-1],[6.4,-.2],[7,.2],[7.5,.7],[7.9,1],[8.2,1.5],[8.4,2],[8.3,2.5],[8.4,3],[8.1,3.2],[7.7,3.3],[5.6,3.7],[5,3.9],[4.4,3.6],[4.2,3.3],[4.6,3.7],[5.2,3.8],[5.7,4],[6.1,4.3],[6.5,4],[6.7,3.55],[7.2,3.75],[7.5,4],[7.9,4.15],[8.25,4.1],[8.35,3.5],[8.7,3.7],[8.7,3.05],[8.95,2.75],[8.8,2.45],[9,2.35],[8.7,2.15],[8.55,2.5],[8.75,1.95],[8.5,1.7],[8.4,1.45],[8.45,1],[8.15,1.1],[8.1,.8],[7.9,.4],[7.6,.1],[7.45,.25],[7.2,-.05],[7.05,-.35],[6.85,-.1],[6.5,-.7],[6.2,-1.05],[5.95,-1.25],[5.6,-1.4],[5.15,-1.5],[5.1,-1.15],[7.4,4.7],[7.9,4.4],[6.2,4.95],[6.75,4.9],[7.3,4.55],[5.5,4.6],[5.4,5],[5.7,5.3],[6.5,5],[7,5.1],[8.4,4.4],[9.25,3.6],[9.05,3.45],[8.3,2.85],[8.55,2.85],[9.1,1.95],[8.9,1.7],[8.95,.95],[7.65,5.3],[8.4,4.95],[8.05,5.1],[4.8,4.2],[4.5,4.5],[4.85,5.2],[4.6,5.5],[4.4,5.85],[5.1,3.5],[5.35,3.7],[5.5,3.45],[5.85,3.6],[6.05,3.65],[6.3,3.45],[6.55,3.7],[6.85,3.4],[7.1,3.55],[7.35,3.45],[7.6,3.6],[7.95,3.55],[8.2,3.4],[5.3,4.05],[5.55,4.2],[5.95,3.95],[6.2,4.1],[6.35,3.9],[6.7,4.05],[6.95,3.95],[7.25,4.1],[7.35,3.85],[7.65,3.8],[8,3.75],[8.3,3.75],[5.6,4.45],[5.85,4.4],[6.2,4.55],[6.45,4.55],[6.65,4.35],[6.95,4.45],[7.1,4.6],[7.55,4.3],[7.8,4.3],[5.25,4.4],[6,4.8],[6.5,4.75],[6.9,4.75],[7.25,4.75],[7.55,4.75],[8.05,4.7],[8.3,4.55],[5.55,3.9],[4.95,4.05],[5.05,4.5],[5.15,4.75],[5.1,-1.7],[5.35,-1.35],[5.6,-1.15],[5.9,-.85],[6.1,-1.3],[6.4,-.85],[6.65,-.5],[6.95,-.55],[7.1,-.1],[5.7,-1.7],[5.95,-1.6],[6.15,-1.55],[6.45,-1.15],[6.7,-1],[6.95,-.9],[5.25,-1.4],[5.5,-1.7],[5.3,-2]];

const cores=[core1,core2,core3,core4,core5,core6];
const bands=[band1,band2,band3,band4,band5,band6];
const pointSets=[points1,points2,points3,points4,points5,points6];
const coreOrder=[2,0,5,4,1,3];
const pointOrder=[0,2,5,4,1,3];
const FONT='"Liberation Sans",Arial,sans-serif';

const series=[{type:'scatter',data:[],silent:true,z:1,
  markLine:{silent:true,symbol:'none',animation:false,z:1,label:{show:false},
    data:[
      ...minorBreaks.map(v=>({xAxis:v,lineStyle:{color:'#fff',width:1,type:'solid'}})),
      ...minorBreaks.map(v=>({yAxis:v,lineStyle:{color:'#fff',width:1,type:'solid'}})),
      ...majorBreaks.map(v=>({xAxis:v,lineStyle:{color:'#fff',width:2,type:'solid'}})),
      ...majorBreaks.map(v=>({yAxis:v,lineStyle:{color:'#fff',width:2,type:'solid'}}))
    ]}}];
coreOrder.forEach((k,i)=>{
  series.push({type:'scatter',name:categories[k],data:cores[k],symbol:'circle',symbolSize:44,
    itemStyle:{color:colors[k],opacity:1},z:3+i,silent:true,animation:false,large:false,progressive:0});
  series.push({type:'scatter',name:categories[k],data:bands[k],symbol:'circle',symbolSize:24,
    itemStyle:{color:colors[k],opacity:1},z:3+i,silent:true,animation:false,large:false,progressive:0});
});
pointOrder.forEach((k,i)=>series.push({type:'scatter',name:categories[k],data:pointSets[k],symbol:'circle',symbolSize:12.5,
  itemStyle:{color:colors[k],opacity:1},z:10+i,silent:true,animation:false,large:false,progressive:0}));

const axisCommon={type:'value',
  nameLocation:'middle',nameTextStyle:{color:'#000',fontSize:29.33,fontFamily:FONT},
  axisLine:{show:false},splitLine:{show:false},minorSplitLine:{show:false},
  axisTick:{show:true,length:6,customValues:majorBreaks,lineStyle:{color:'#333',width:2}},
  axisLabel:{show:true,customValues:majorBreaks,color:'#4D4D4D',fontSize:23.47,fontFamily:FONT,showMinLabel:true,showMaxLabel:true}};

const chart=echarts.init(document.getElementById('c'),null,{renderer:'canvas',width:1536,height:1536});
chart.setOption({
  animation:false,backgroundColor:'#fff',
  grid:{left:99,top:141,width:1271,height:1271,show:true,backgroundColor:'#EBEBEB',borderWidth:0,containLabel:false,outerBoundsMode:'none'},
  xAxis:{...axisCommon,min:-12.825,max:12.825,name:'PC1',nameGap:44,axisLabel:{...axisCommon.axisLabel,margin:11}},
  yAxis:{...axisCommon,min:-12.83,max:12.85,name:'PC2',nameGap:56,axisLabel:{...axisCommon.axisLabel,margin:12,padding:[4,0,0,0]}},
  legend:{data:categories,left:1430.5,top:674.5,padding:0,orient:'vertical',itemWidth:13,itemHeight:13,itemGap:23,
    icon:'circle',selectedMode:false,
    textStyle:{color:'#000',fontSize:23.47,fontFamily:FONT,padding:[0,0,0,25]}},
  graphic:[
    ...categories.map((c,i)=>({type:'rect',z:1,silent:true,shape:{x:1415,y:662+46*i,width:44,height:44},style:{fill:'#F2F2F2'}})),
    {type:'text',z:1,left:1414,top:617,silent:true,style:{text:'Cluster',fill:'#000',font:'29.33px '+FONT}}
  ],
  series
});
</script></body></html>
